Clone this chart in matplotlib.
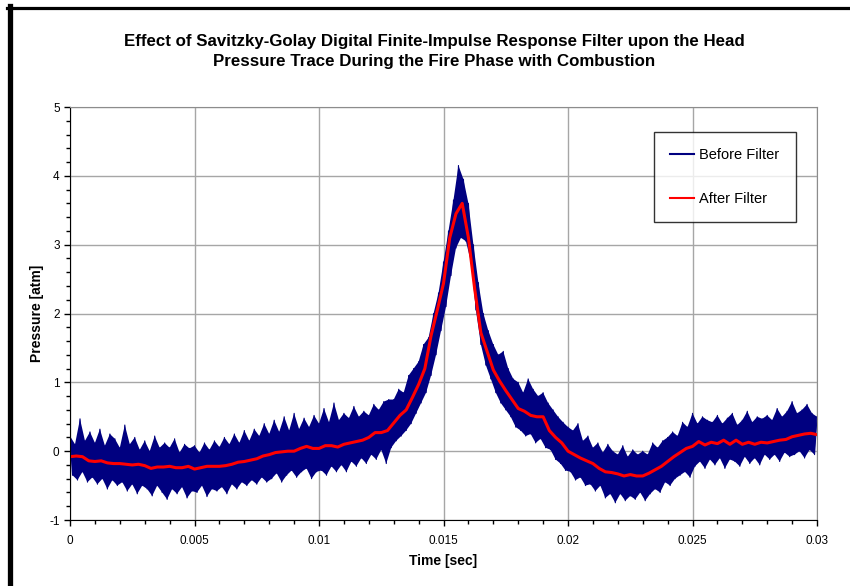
import numpy as np
import matplotlib
matplotlib.use("Agg")
import matplotlib.pyplot as plt
from matplotlib.lines import Line2D
from matplotlib.ticker import MultipleLocator, FormatStrFormatter

plt.rcParams['font.family'] = ['Liberation Sans', 'DejaVu Sans']
plt.rcParams['axes.unicode_minus'] = False

# filtered pressure every 0.25 ms, 0 .. 30 ms
filt_step = 0.00025
after_filter = [
    -0.08, -0.07, -0.08, -0.14, -0.15, -0.14, -0.17, -0.18, -0.18, -0.19,
    -0.20, -0.19, -0.21, -0.25, -0.23, -0.23, -0.22, -0.24, -0.24, -0.22,
    -0.26, -0.24, -0.22, -0.22, -0.22, -0.21, -0.19, -0.16, -0.15, -0.13,
    -0.11, -0.07, -0.05, -0.02, -0.01, 0.00, 0.00, 0.04, 0.07, 0.04,
    0.04, 0.08, 0.08, 0.06, 0.10, 0.12, 0.14, 0.16, 0.20, 0.27,
    0.27, 0.30, 0.41, 0.52, 0.60, 0.78, 0.97, 1.20, 1.68, 2.05,
    2.44, 3.10, 3.45, 3.60, 3.10, 2.36, 1.72, 1.45, 1.18, 1.02,
    0.88, 0.75, 0.62, 0.58, 0.52, 0.50, 0.50, 0.30, 0.20, 0.12,
    0.00, -0.05, -0.10, -0.14, -0.18, -0.25, -0.30, -0.31, -0.33, -0.36,
    -0.34, -0.36, -0.36, -0.32, -0.27, -0.22, -0.15, -0.08, -0.02, 0.04,
    0.07, 0.14, 0.09, 0.13, 0.11, 0.16, 0.10, 0.16, 0.10, 0.13,
    0.10, 0.13, 0.12, 0.14, 0.16, 0.17, 0.21, 0.23, 0.25, 0.26,
    0.24,
]

# raw trace every 0.1 ms: the noise extremes, alternately high and low
raw_step = 0.0001
before_filter = [
    0.22, -0.35, 0.10, -0.42, 0.47, -0.30, 0.15, -0.45, 0.28, -0.38,    # 0 ms
    0.12, -0.48, 0.32, -0.40, 0.08, -0.55, 0.25, -0.42, 0.18, -0.50,
    0.05, -0.45, 0.38, -0.58, 0.10, -0.48, 0.20, -0.62, 0.02, -0.50,
    0.15, -0.55, 0.00, -0.65, 0.22, -0.50, 0.05, -0.60, 0.12, -0.70,
    0.05, -0.55, 0.18, -0.62, -0.02, -0.52, 0.10, -0.68, 0.04, -0.58,
    0.08, -0.60, -0.02, -0.50, 0.12, -0.66, 0.02, -0.55, 0.15, -0.58,   # 5 ms
    0.06, -0.52, 0.20, -0.62, 0.10, -0.48, 0.25, -0.55, 0.12, -0.45,
    0.30, -0.50, 0.15, -0.42, 0.32, -0.48, 0.22, -0.38, 0.40, -0.45,
    0.25, -0.40, 0.45, -0.32, 0.28, -0.45, 0.50, -0.35, 0.30, -0.28,
    0.55, -0.38, 0.32, -0.30, 0.48, -0.25, 0.35, -0.40, 0.52, -0.30,
    0.40, -0.28, 0.62, -0.35, 0.42, -0.22, 0.70, -0.30, 0.45, -0.20,    # 10 ms
    0.55, -0.30, 0.48, -0.15, 0.65, -0.22, 0.50, -0.10, 0.58, -0.18,
    0.52, -0.05, 0.68, -0.12, 0.60, 0.02, 0.72, -0.18, 0.75, 0.05,
    0.75, 0.15, 0.90, 0.22, 0.85, 0.30, 1.10, 0.40, 1.20, 0.55,
    1.30, 0.70, 1.55, 0.85, 1.65, 1.10, 2.00, 1.40, 2.30, 1.75,
    2.75, 2.10, 3.20, 2.55, 3.65, 2.95, 4.15, 3.10, 3.95, 3.05,         # 15 ms
    3.60, 2.75, 3.00, 2.05, 2.45, 1.55, 2.00, 1.25, 1.75, 1.05,
    1.55, 0.85, 1.40, 0.70, 1.45, 0.60, 1.20, 0.50, 1.05, 0.35,
    1.00, 0.30, 0.85, 0.22, 1.05, 0.25, 0.90, 0.12, 0.80, 0.18,
    0.85, 0.05, 0.70, 0.02, 0.60, -0.12, 0.50, -0.18, 0.42, -0.28,
    0.35, -0.30, 0.30, -0.42, 0.40, -0.38, 0.15, -0.50, 0.22, -0.48,    # 20 ms
    0.05, -0.58, 0.12, -0.50, -0.02, -0.68, 0.10, -0.62, 0.00, -0.75,
    -0.05, -0.62, 0.08, -0.72, -0.08, -0.65, 0.02, -0.70, -0.05, -0.60,
    0.00, -0.72, -0.05, -0.62, 0.12, -0.55, 0.05, -0.60, 0.15, -0.45,
    0.20, -0.50, 0.28, -0.40, 0.22, -0.35, 0.42, -0.30, 0.35, -0.38,
    0.55, -0.22, 0.40, -0.15, 0.50, -0.25, 0.45, -0.12, 0.42, -0.20,    # 25 ms
    0.52, -0.10, 0.40, -0.25, 0.48, -0.12, 0.55, -0.15, 0.38, -0.22,
    0.45, -0.08, 0.58, -0.18, 0.42, -0.10, 0.50, -0.20, 0.47, -0.05,
    0.52, -0.12, 0.45, -0.05, 0.62, -0.15, 0.50, -0.02, 0.58, -0.08,
    0.72, -0.05, 0.55, 0.00, 0.60, -0.10, 0.68, 0.02, 0.55, -0.05,
    0.50,
]

t_filt = np.arange(len(after_filter)) * filt_step
t_raw = np.arange(len(before_filter)) * raw_step
raw = np.array(before_filter)

fig = plt.figure(figsize=(8.5, 5.86), dpi=100)
ax = fig.add_axes([0.0824, 0.1126, 0.8788, 0.7048])

# solid band between the high and low extremes, then the trace itself
hi_t, hi_p = t_raw[0::2], raw[0::2]
lo_t, lo_p = t_raw[1::2], raw[1::2]
ax.fill(np.r_[hi_t, lo_t[::-1]], np.r_[hi_p, lo_p[::-1]], color='#000080', lw=0)
ax.plot(t_raw, raw, color='#000080', lw=0.8, label='Before Filter')
ax.plot(t_filt, after_filter, color='#ff0000', lw=2.2, label='After Filter')

ax.set_xlim(0, 0.03)
ax.set_ylim(-1, 5)
ax.xaxis.set_major_locator(MultipleLocator(0.005))
ax.xaxis.set_minor_locator(MultipleLocator(0.001))
ax.yaxis.set_major_locator(MultipleLocator(1))
ax.yaxis.set_minor_locator(MultipleLocator(0.2))
ax.xaxis.set_major_formatter(FormatStrFormatter('%g'))
ax.tick_params(which='major', direction='out', length=4, width=1, labelsize=8.5)
ax.tick_params(axis='x', which='major', pad=7)
ax.tick_params(which='minor', direction='out', length=3, width=1)
ax.grid(True, which='major', color='#a6a6a6', lw=1)
ax.set_axisbelow(True)
for s in ('top', 'right'):
    ax.spines[s].set_color('#8c8c8c')
for s in ('left', 'bottom'):
    ax.spines[s].set_color('black')

ax.set_xlabel('Time [sec]', fontsize=10, fontweight='bold', labelpad=5)
ax.set_ylabel('Pressure [atm]', fontsize=10, fontweight='bold', labelpad=4)

fig.text(0.511, 0.912, 'Effect of Savitzky-Golay Digital Finite-Impulse Response Filter upon the Head\n'
         'Pressure Trace During the Fire Phase with Combustion',
         ha='center', va='center', fontsize=12.2, fontweight='bold', linespacing=1.38)

leg = ax.legend(loc='upper left', bbox_to_anchor=(0.782, 0.939), fontsize=10.5,
                frameon=True, fancybox=False, edgecolor='black', handlelength=1.6,
                handletextpad=0.4, labelspacing=2.05, borderpad=1.1, borderaxespad=0)
leg.get_frame().set_linewidth(1.0)
for h in leg.get_lines():
    h.set_linewidth(1.5)

# black frame of the source sheet on the left and top
fig.add_artist(Line2D([9.5 / 850, 9.5 / 850], [0, 1 - 6 / 586], color='black', lw=3.8))
fig.add_artist(Line2D([7 / 850, 1], [1 - 7.5 / 586, 1 - 7.5 / 586], color='black', lw=2.3))

fig.savefig('out.png', dpi=100)
